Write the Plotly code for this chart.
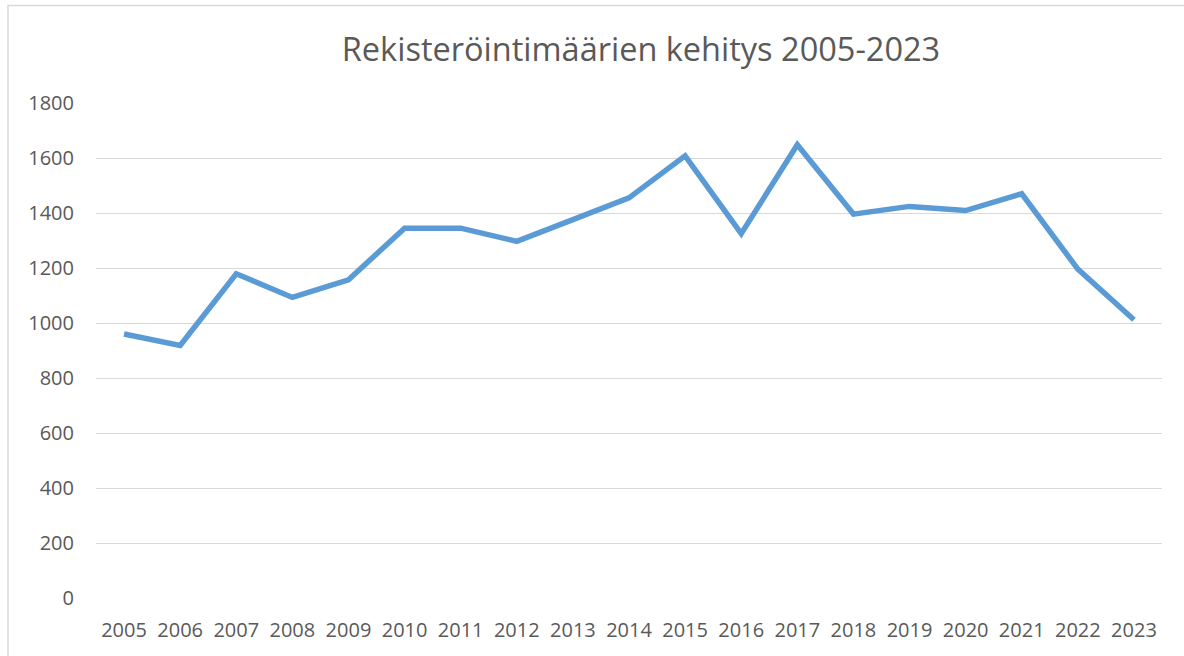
import plotly.graph_objects as go

years = list(range(2005, 2024))
values = [960, 918, 1179, 1093, 1157, 1345, 1345, 1297, 1376, 1455,
          1608, 1325, 1648, 1396, 1424, 1409, 1470, 1196, 1012]
y_ticks = [0, 200, 400, 600, 800, 1000, 1200, 1400, 1600, 1800]
title_text = "Rekisteröintimäärien kehitys 2005-2023"

W, H = 1184, 656
font_family = "Open Sans"
txt = "#595959"

fig = go.Figure()
fig.add_trace(go.Scatter(
    x=years, y=values, mode="lines",
    line=dict(color="#5B9BD5", width=5.5),
    hoverinfo="x+y",
))

fig.update_layout(
    width=W, height=H, autosize=False,
    paper_bgcolor="white", plot_bgcolor="white",
    margin=dict(l=96, r=22, t=103, b=58),
    showlegend=False,
    font=dict(family=font_family, color=txt, size=20),
    title=dict(text=title_text, x=641 / W, xanchor="center", xref="container",
               y=1 - 50 / H, yanchor="middle", yref="container",
               font=dict(family=font_family, size=32.5, color=txt)),
    xaxis=dict(range=[2004.5, 2023.5], tickvals=years, ticktext=[str(y) for y in years],
               showgrid=False, zeroline=False, showline=False, ticks="",
               ticklabelstandoff=18, tickfont=dict(size=20, color=txt)),
    yaxis=dict(range=[0, 1800], tickvals=y_ticks, showgrid=True, gridcolor="#D9D9D9",
               gridwidth=1.3, zeroline=False, showline=False, ticks="",
               ticklabelstandoff=21, tickfont=dict(size=20, color=txt)),
    shapes=[dict(type="rect", xref="paper", yref="paper",
                 x0=(8 - 96) / (W - 96 - 22), x1=(W + 10 - 96) / (W - 96 - 22),
                 y0=-(58 + 10) / (H - 103 - 58), y1=1 + (103 - 5.5) / (H - 103 - 58),
                 line=dict(color="#D9D9D9", width=1.5), layer="below")],
)

fig.write_html("out.html", config={"displayModeBar": False},
               post_script="document.body.style.margin='0px';")
